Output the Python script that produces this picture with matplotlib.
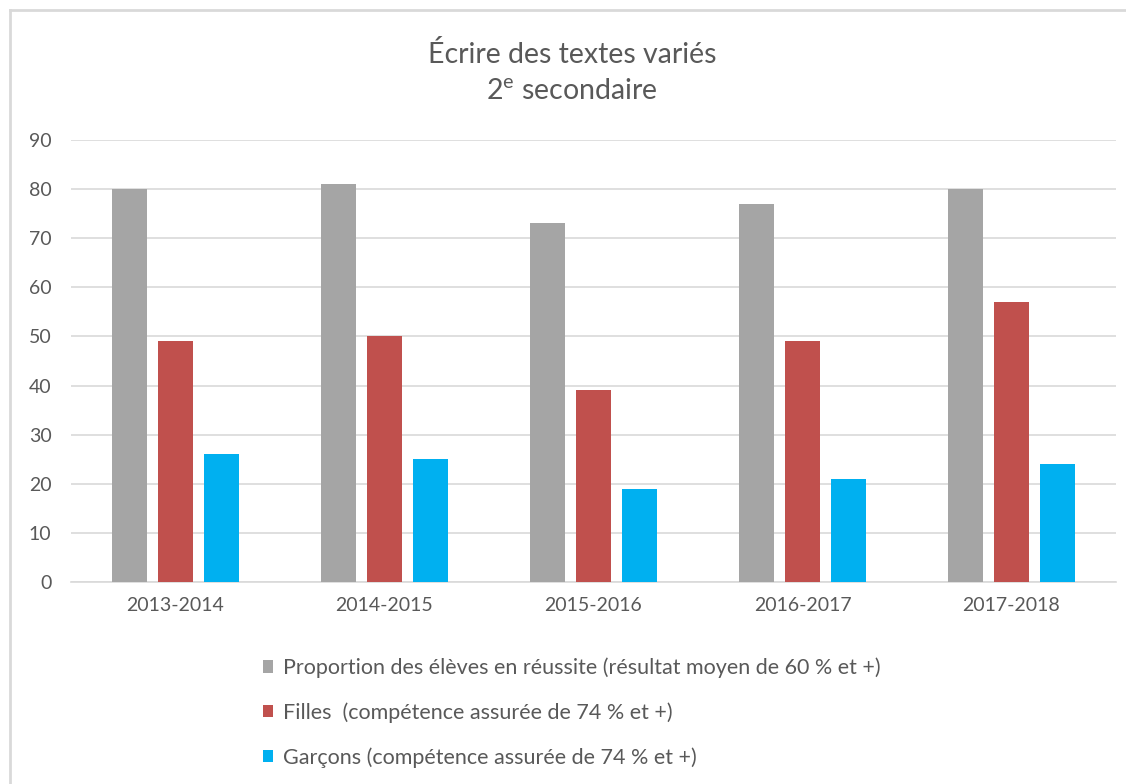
import matplotlib
matplotlib.use("Agg")
import matplotlib.pyplot as plt
import numpy as np
from matplotlib.lines import Line2D

plt.rcParams['font.family'] = ['Lato', 'DejaVu Sans']

categories = ["2013-2014", "2014-2015", "2015-2016", "2016-2017", "2017-2018"]
proportion = [80, 81, 73, 77, 80]
filles = [49, 50, 39, 49, 57]
garcons = [26, 25, 19, 21, 24]
series_labels = [
    "Proportion des élèves en réussite (résultat moyen de 60 % et +)",
    "Filles  (compétence assurée de 74 % et +)",
    "Garçons (compétence assurée de 74 % et +)",
]
colors = ["#A5A5A5", "#C0504D", "#00B0F0"]
title = "Écrire des textes variés\n2$^{\\mathregular{e}}$ secondaire"

W, H = 1126, 784
fig = plt.figure(figsize=(W / 100, H / 100), dpi=100)
ax = fig.add_axes([71 / W, 1 - 582 / H, (1116 - 71) / W, (582 - 140) / H])

x = np.arange(len(categories))
bw = 0.172
off = 0.22
for i, (vals, c, lab) in enumerate(zip([proportion, filles, garcons], colors, series_labels)):
    ax.bar(x + (i - 1) * off, vals, width=bw, color=c, label=lab, zorder=3)

ax.set_xlim(-0.5, len(categories) - 0.5)
ax.set_ylim(0, 90)
ax.set_yticks(range(0, 91, 10))
ax.set_xticks(x)
ax.set_xticklabels(categories)
ax.grid(axis='y', color='#D9D9D9', linewidth=1.2, zorder=0)
for s in ['top', 'right', 'left']:
    ax.spines[s].set_visible(False)
ax.spines['bottom'].set_color('#D9D9D9')
ax.spines['bottom'].set_linewidth(1.2)
ax.tick_params(axis='both', length=0, colors='#595959', labelsize=14)
ax.tick_params(axis='y', pad=14)
ax.tick_params(axis='x', pad=11)

fig.text(572 / W, 1 - 73 / H, title, ha='center', va='center', fontsize=20.5,
         color='#595959', linespacing=1.5)

handles, labels = ax.get_legend_handles_labels()
leg = fig.legend(handles, labels, loc='upper left', bbox_to_anchor=(254 / W, 1 - 649 / H),
                 frameon=False, fontsize=15.5, labelcolor='#595959', handlelength=0.5,
                 handleheight=0.5, handletextpad=0.45, labelspacing=1.12, borderaxespad=0)

# outer border (left and top)
fig.add_artist(Line2D([10 / W, 10 / W], [0, 1 - 10 / H], transform=fig.transFigure,
                      color='#D9D9D9', linewidth=2))
fig.add_artist(Line2D([10 / W, 1], [1 - 10 / H, 1 - 10 / H], transform=fig.transFigure,
                      color='#D9D9D9', linewidth=2))

fig.savefig("out.png", dpi=100, facecolor='white')
